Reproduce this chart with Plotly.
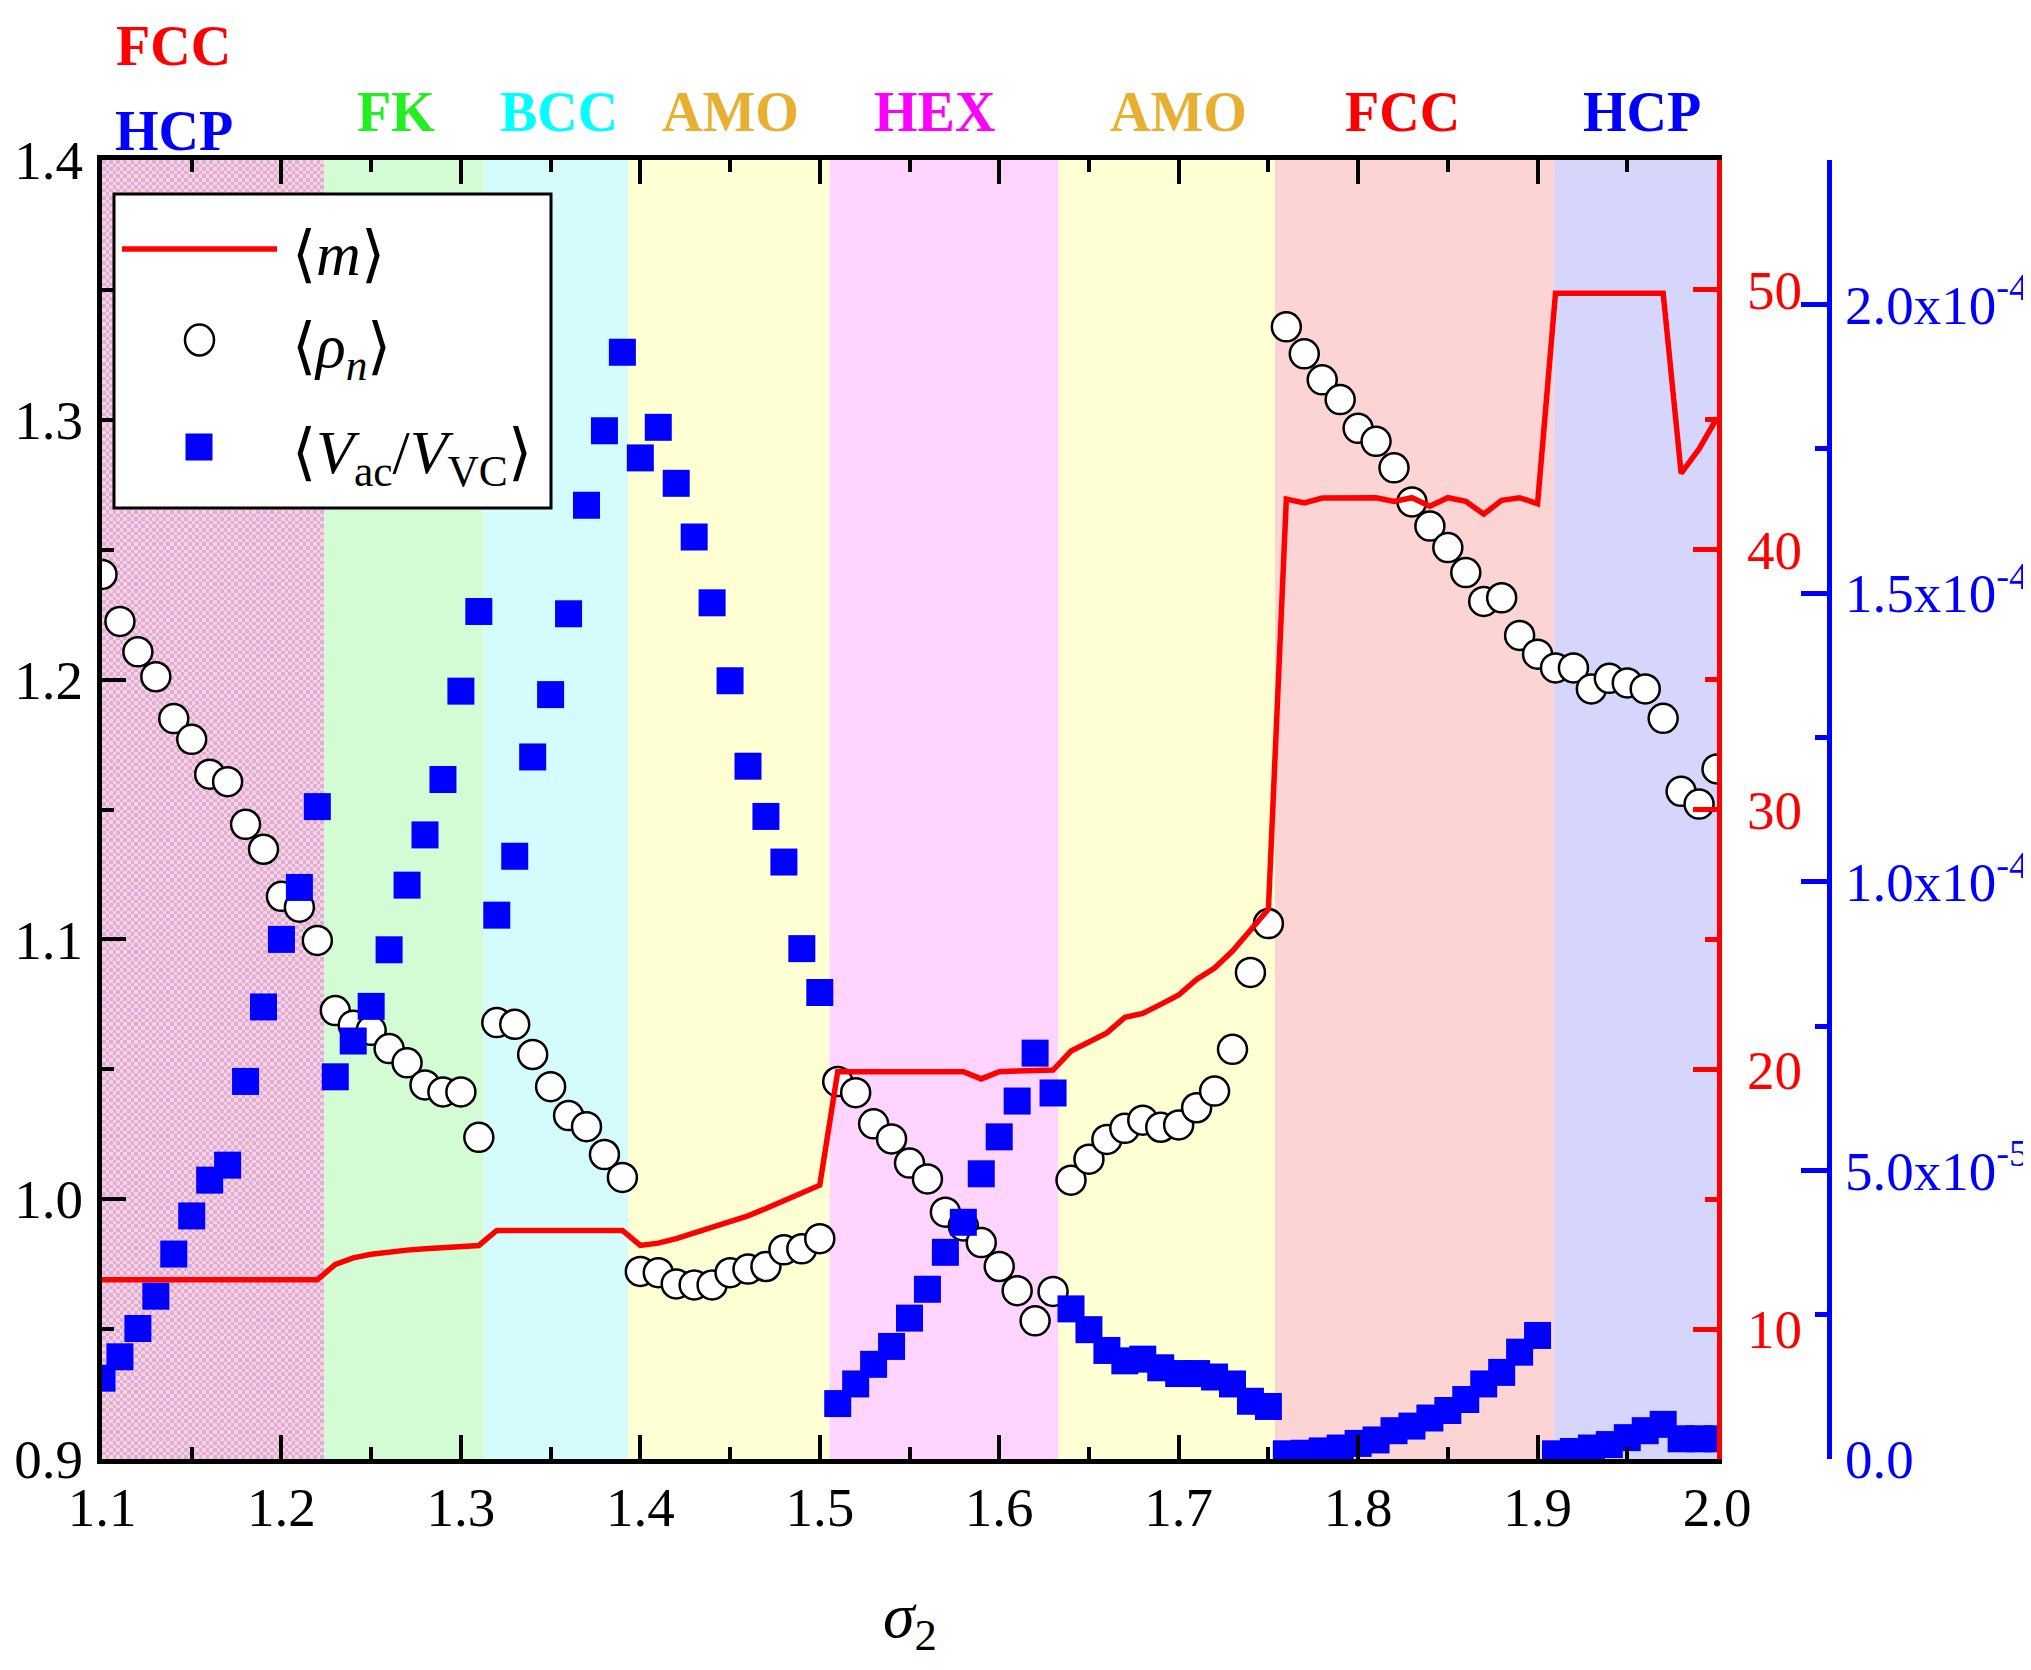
import numpy as np
import plotly.graph_objects as go

# ---------------- data ----------------
sigma2 = [1.10, 1.11, 1.12, 1.13, 1.14, 1.15, 1.16, 1.17, 1.18, 1.19,
          1.20, 1.21, 1.22, 1.23, 1.24, 1.25, 1.26, 1.27, 1.28, 1.29,
          1.30, 1.31, 1.32, 1.33, 1.34, 1.35, 1.36, 1.37, 1.38, 1.39,
          1.40, 1.41, 1.42, 1.43, 1.44, 1.45, 1.46, 1.47, 1.48, 1.49,
          1.50, 1.51, 1.52, 1.53, 1.54, 1.55, 1.56, 1.57, 1.58, 1.59,
          1.60, 1.61, 1.62, 1.63, 1.64, 1.65, 1.66, 1.67, 1.68, 1.69,
          1.70, 1.71, 1.72, 1.73, 1.74, 1.75, 1.76, 1.77, 1.78, 1.79,
          1.80, 1.81, 1.82, 1.83, 1.84, 1.85, 1.86, 1.87, 1.88, 1.89,
          1.90, 1.91, 1.92, 1.93, 1.94, 1.95, 1.96, 1.97, 1.98, 1.99, 2.00]

rho_n = [1.2405, 1.2224, 1.2107, 1.2011, 1.1850, 1.1770, 1.1636, 1.1607, 1.1443, 1.1347,
         1.1166, 1.1124, 1.0996, 1.0726, 1.0670, 1.0650, 1.0580, 1.0525, 1.0440, 1.0413,
         1.0413, 1.0238, 1.0680, 1.0673, 1.0557, 1.0433, 1.0322, 1.0279, 1.0172, 1.0084,
         0.9722, 0.9717, 0.9674, 0.9670, 0.9670, 0.9717, 0.9731, 0.9741, 0.9805, 0.9809,
         0.9848, 1.0453, 1.0410, 1.0290, 1.0232, 1.0139, 1.0078, 0.9950, 0.9897, 0.9833,
         0.9741, 0.9648, 0.9532, 0.9645, 1.0073, 1.0154, 1.0230, 1.0273, 1.0304, 1.0277,
         1.0286, 1.0352, 1.0416, 1.0577, 1.0873, 1.1061, 1.3358, 1.3254, 1.3154, 1.3078,
         1.2967, 1.2917, 1.2815, 1.2684, 1.2591, 1.2508, 1.2412, 1.2301, 1.2315, 1.2170,
         1.2098, 1.2045, 1.2045, 1.1964, 1.2005, 1.1987, 1.1964, 1.1851, 1.1570, 1.1521, 1.1656]

# <V_ac / V_VC> in units of 1e-5
v_ratio_e5 = [1.40, 1.77, 2.26, 2.82, 3.55, 4.21, 4.83, 5.09, 6.54, 7.83,
              9.00, 9.90, 11.30, 6.62, 7.24, 7.84, 8.82, 9.94, 10.81, 11.77,
              13.30, 14.68, 9.42, 10.44, 12.16, 13.24, 14.64, 16.52, 17.81, 19.17,
              17.34, 17.87, 16.90, 15.97, 14.83, 13.48, 12.00, 11.13, 10.34, 8.84,
              8.08, 0.96, 1.30, 1.64, 1.95, 2.44, 2.94, 3.58, 4.10, 4.94,
              5.58, 6.20, 7.03, 6.34, 2.60, 2.24, 1.88, 1.70, 1.73, 1.58,
              1.48, 1.48, 1.42, 1.30, 1.00, 0.91, 0.09, 0.10, 0.14, 0.19,
              0.27, 0.33, 0.49, 0.57, 0.71, 0.84, 1.03, 1.30, 1.50, 1.85,
              2.14, 0.09, 0.13, 0.19, 0.25, 0.37, 0.49, 0.60, 0.35, 0.35, 0.35]
v_ratio = [v * 1e-5 for v in v_ratio_e5]

m_mean = [11.9, 11.9, 11.9, 11.9, 11.9, 11.9, 11.9, 11.9, 11.9, 11.9,
          11.9, 11.9, 11.9, 12.49, 12.74, 12.88, 12.98, 13.04, 13.09, 13.14,
          13.18, 13.22, 13.80, 13.80, 13.80, 13.80, 13.80, 13.80, 13.80, 13.80,
          13.22, 13.31, 13.48, 13.69, 13.90, 14.11, 14.36, 14.64, 14.93, 15.21,
          15.54, 19.91, 19.91, 19.91, 19.91, 19.91, 19.91, 19.91, 19.91, 19.63,
          19.91, 19.93, 19.93, 19.97, 20.70, 21.04, 21.40, 22.00, 22.15, 22.50,
          22.86, 23.46, 23.90, 24.55, 25.35, 26.16, 41.95, 41.80, 41.99, 42.00,
          42.00, 42.00, 41.86, 42.00, 41.67, 42.00, 41.86, 41.37, 41.90, 42.00,
          41.77, 49.87, 49.87, 49.87, 49.87, 49.87, 49.87, 49.87, 42.94, 43.88, 45.07]

# phase regions (first region is mixed FCC/HCP)
phase_bounds = [1.10, 1.2236, 1.3127, 1.3934, 1.5055, 1.633, 1.7537, 1.9093, 2.00]
phase_names = ["FCC/HCP", "FK", "BCC", "AMO", "HEX", "AMO", "FCC", "HCP"]
phase_fill = [None, "#D4FCD4", "#D4FCFC", "#FFFFD4", "#FFD4FF", "#FFFFD4", "#FDD4D4", "#D6D6FC"]
label_x = [1.1400, 1.2637, 1.3545, 1.4502, 1.5638, 1.6999, 1.8249, 1.9580]
label_color = ["#FF0000", "#22EE22", "#00FFFF", "#E8B030", "#FF00FF", "#E8B030", "#FF0000", "#0000FF"]

legend_labels = ["⟨<i>m</i>⟩", "⟨<i>ρ</i><sub><i>n</i></sub>⟩",
                 "⟨<i>V</i><sub>ac</sub>/<i>V</i><sub>VC</sub>⟩"]

x_ticks = [1.1, 1.2, 1.3, 1.4, 1.5, 1.6, 1.7, 1.8, 1.9, 2.0]
blue_tickvals = [0, 5e-5, 1e-4, 1.5e-4, 2e-4]
blue_ticktext = ["0.0", "5.0x10<sup>-5</sup>", "1.0x10<sup>-4</sup>",
                 "1.5x10<sup>-4</sup>", "2.0x10<sup>-4</sup>"]

# ---------------- layout geometry ----------------
W, H = 2023, 1662
ML, MR, MT, MB = 94, 0, 152, 211
pw = W - ML - MR
xd = 1615 / pw
blue_pos = (1821 - ML) / pw
FONT = "Liberation Serif"

fig = go.Figure()

# checkered background for the mixed FCC/HCP region
nx, ny = 62, 360
dx = (phase_bounds[1] - phase_bounds[0]) / nx
dy = 0.5 / ny
checker = np.add.outer(np.arange(ny), np.arange(nx)) % 2
fig.add_trace(go.Heatmap(z=checker, x0=phase_bounds[0] + dx / 2, dx=dx,
                         y0=0.9 + dy / 2, dy=dy,
                         colorscale=[[0, "#FFD0D8"], [1, "#D8B0E0"]],
                         showscale=False, hoverinfo="skip", zsmooth=False,
                         showlegend=False, xaxis="x", yaxis="y"))

circle_marker = dict(symbol="circle", size=29, color="white",
                     line=dict(color="black", width=2.5))
square_marker = dict(symbol="square", size=27, color="#0000FF", line=dict(width=0))
line_style = dict(color="#FF0000", width=5.5)

fig.add_trace(go.Scatter(x=sigma2, y=rho_n, mode="markers", yaxis="y",
                         name="rho_n", marker=circle_marker, showlegend=False))
fig.add_trace(go.Scatter(x=sigma2, y=v_ratio, mode="markers", yaxis="y2",
                         name="V_ac/V_VC", marker=square_marker, showlegend=False))
fig.add_trace(go.Scatter(x=sigma2, y=m_mean, mode="lines", yaxis="y3",
                         name="m", line=line_style, showlegend=False))

shapes = []
for i in range(1, len(phase_fill)):
    shapes.append(dict(type="rect", xref="x", yref="paper",
                       x0=phase_bounds[i], x1=phase_bounds[i + 1], y0=0, y1=1,
                       fillcolor=phase_fill[i], line=dict(width=0), layer="below"))

# ---- legend box (drawn by hand so keys have the reference's size) ----
def px(xw):   # window x pixel -> paper x
    return (xw - 102) / 1929.0

def py(yw):   # window y pixel -> paper y
    return (1459 - yw) / 1299.0

shapes.append(dict(type="rect", xref="paper", yref="paper",
                   x0=px(114), x1=px(551), y0=py(508), y1=py(194),
                   fillcolor="white", line=dict(color="black", width=3), layer="above"))
shapes.append(dict(type="line", xref="paper", yref="paper",
                   x0=px(122), x1=px(277), y0=py(249), y1=py(249),
                   line=dict(color="#FF0000", width=5.5), layer="above"))
shapes.append(dict(type="circle", xref="paper", yref="paper",
                   xsizemode="pixel", ysizemode="pixel", xanchor=px(199.5), yanchor=py(340),
                   x0=-14.5, x1=14.5, y0=-15.5, y1=15.5,
                   fillcolor="white", line=dict(color="black", width=2.5), layer="above"))
shapes.append(dict(type="rect", xref="paper", yref="paper",
                   xsizemode="pixel", ysizemode="pixel", xanchor=px(199), yanchor=py(447),
                   x0=-13.5, x1=13.5, y0=-13.5, y1=13.5,
                   fillcolor="#0000FF", line=dict(width=0), layer="above"))

annotations = []
for i, name in enumerate(phase_names):
    if i == 0:
        annotations.append(dict(x=label_x[0], y=1.088, xref="x", yref="paper",
                                text="<b>FCC</b>", showarrow=False, yanchor="middle",
                                font=dict(family=FONT, size=56, color="#FF0000")))
        annotations.append(dict(x=label_x[0], y=1.022, xref="x", yref="paper",
                                text="<b>HCP</b>", showarrow=False, yanchor="middle",
                                font=dict(family=FONT, size=56, color="#0000FF")))
    else:
        annotations.append(dict(x=label_x[i], y=1.037, xref="x", yref="paper",
                                text="<b>%s</b>" % name, showarrow=False, yanchor="middle",
                                font=dict(family=FONT, size=56, color=label_color[i])))

for txt, yw in zip(legend_labels, [254, 350, 456]):
    annotations.append(dict(x=px(290), y=py(yw), xref="paper", yref="paper",
                            text=txt, showarrow=False, xanchor="left", yanchor="middle",
                            font=dict(family=FONT, size=62, color="black")))

annotations.append(dict(x=(1.1 + 2.0) / 2, xref="x", y=-0.124, yref="paper",
                        text="<i>σ</i><sub>2</sub>", showarrow=False, yanchor="middle",
                        font=dict(family=FONT, size=64, color="black")))

tickfont = dict(family=FONT, size=55, color="black")

fig.update_layout(
    width=W, height=H,
    margin=dict(l=ML, r=MR, t=MT, b=MB),
    paper_bgcolor="white", plot_bgcolor="white",
    shapes=shapes, annotations=annotations,
    showlegend=False,
    xaxis=dict(domain=[0, xd], range=[1.1, 2.0], tickmode="array", tickvals=x_ticks,
               tickformat=".1f", ticks="inside", ticklen=24, tickwidth=4, tickcolor="black",
               showline=True, linewidth=5, linecolor="black", mirror="ticks",
               showgrid=False, zeroline=False, tickfont=tickfont, automargin=False,
               ticklabelstandoff=-4,
               minor=dict(ticks="inside", ticklen=12, tickwidth=4, tickcolor="black",
                          tickmode="linear", tick0=1.1, dtick=0.05, showgrid=False)),
    yaxis=dict(range=[0.9, 1.4], tickmode="linear", tick0=0.9, dtick=0.1, tickformat=".1f",
               ticks="inside", ticklen=24, tickwidth=4, tickcolor="black",
               showline=True, linewidth=5, linecolor="black", mirror=False,
               showgrid=False, zeroline=False, tickfont=tickfont, automargin=False,
               ticklabelstandoff=3,
               minor=dict(ticks="inside", ticklen=12, tickwidth=4, tickcolor="black",
                          tickmode="linear", tick0=0.9, dtick=0.05, showgrid=False)),
    yaxis2=dict(overlaying="y", side="right", anchor="free", position=blue_pos,
                range=[0, 2.25e-4], tickmode="array", tickvals=blue_tickvals,
                ticktext=blue_ticktext, ticks="inside", ticklen=26, tickwidth=5,
                tickcolor="#0000FF", showline=True, linewidth=5, linecolor="#0000FF",
                showgrid=False, zeroline=False, automargin=False,
                tickfont=dict(family=FONT, size=55, color="#0000FF"),
                ticklabelstandoff=2,
                minor=dict(ticks="inside", ticklen=12, tickwidth=5, tickcolor="#0000FF",
                           tickmode="linear", tick0=0, dtick=2.5e-5, showgrid=False)),
    yaxis3=dict(overlaying="y", side="right", anchor="x", range=[5, 55],
                tickmode="linear", tick0=0, dtick=10, ticks="inside", ticklen=24,
                tickwidth=5, tickcolor="#FF0000", showline=True, linewidth=5,
                linecolor="#FF0000", showgrid=False, zeroline=False, automargin=False,
                tickfont=dict(family=FONT, size=55, color="#FF0000"),
                ticklabelstandoff=14,
                minor=dict(ticks="inside", ticklen=12, tickwidth=5, tickcolor="#FF0000",
                           tickmode="linear", tick0=0, dtick=5, showgrid=False)),
)

fig.write_html("out.html")
